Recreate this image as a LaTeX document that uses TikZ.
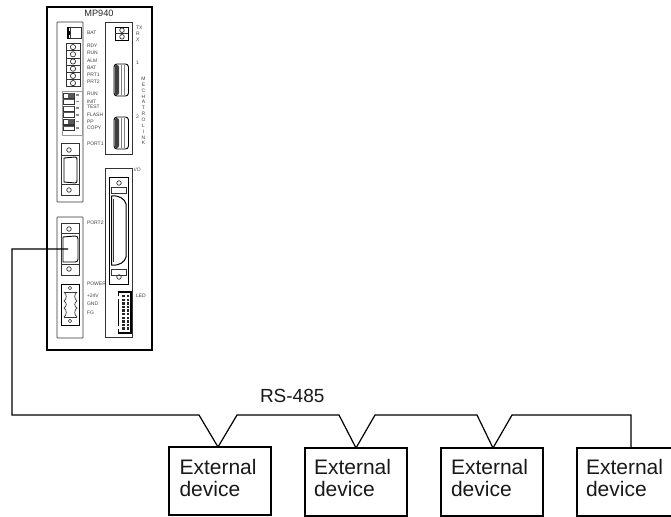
\documentclass[tikz,border=0pt]{standalone}
\usepackage{fontspec}
\setmainfont{Liberation Sans}
\tikzset{
  every node/.style={inner sep=0pt,outer sep=0pt},
  thinl/.style={draw=black!80,line width=0.7pt},
  midl/.style={draw=black,line width=1.1pt},
  tinylab/.style={font=\fontsize{5}{5}\selectfont,text=black!75,anchor=west},
  devbox/.style={draw=black,line width=1.2pt,minimum height=68pt,anchor=north west},
  devtext/.style={font=\fontsize{21}{22}\selectfont,align=left,anchor=base west,text=black!90},
  wire/.style={draw=black,line width=1.2pt},
  screw/.style={circle,draw=black!80,line width=0.7pt,minimum size=4.5pt},
}
\begin{document}
\begin{tikzpicture}[x=1pt,y=-1pt]
\useasboundingbox (0,0) rectangle (671,516);
\clip (0,0) rectangle (671,516);
\node[draw=black,line width=1.1pt,minimum width=105pt,minimum height=343pt,anchor=north west] (outer) at (47,7) {};
\node[font=\fontsize{9.2}{10}\selectfont,text=black!85] (title) at (99,13) {MP940};
% panels
\draw[thinl,rounded corners=0.5pt] (57,22) rectangle (83,202);
\draw[thinl,rounded corners=0.5pt] (57,217) rectangle (83,338);
\draw[thinl] (105,22) rectangle (132,154);
\draw[thinl] (105,168) rectangle (132,337);
% BAT connector
\draw[draw=black,line width=1.6pt] (71,27.5) -- (68,27.5) -- (68,32) -- (70,32) -- (70,34) -- (68,34) -- (68,38.5) -- (71,38.5);
\draw[thinl] (70,27.5) rectangle (81,38.5);
% LEDs
\foreach \i in {0,...,5}{
  \draw[thinl] (66,{43.5+7.2*\i}) rectangle (80,{50.7+7.2*\i});
  \draw[thinl] (73,{47.1+7.2*\i}) circle (2.6);
}
% switches
\draw[draw=black!40,line width=0.6pt] (62,91) rectangle (82,135);
\foreach \i/\xs/\ye in {0/68/98,1/63/94,2/63/94,3/63/94,4/68/98,5/63/94}{
  \draw[thinl,fill=white] (63,{93+6.5*\i}) rectangle (74,{98+6.5*\i});
  \fill[black!65] (\xs,{93+6.5*\i}) rectangle (74,{\ye+6.5*\i});
  \fill[black!45] (76,{94.5+6.5*\i}) rectangle (79,{96+6.5*\i});
}
% PORT1
\draw[thinl] (61,143) -- (79,143) -- (79,195) -- (61,195) -- cycle;
\draw[thinl] (61,155) -- (79,155) (61,184) -- (79,184);
\node[screw] (p1a) at (69,150) {};
\node[screw] (p1b) at (69,190) {};
\draw[midl,line width=0.9pt] (64,158) -- (75,157) .. controls (77,157) and (77,158) .. (77,160) -- (77,180) .. controls (77,182) and (77,183) .. (75,183) -- (64,182) -- cycle;
% PORT2
\draw[thinl] (61,223) -- (79,223) -- (79,275) -- (61,275) -- cycle;
\draw[thinl] (61,233) -- (79,233) (61,264) -- (79,264);
\node[screw] (p2a) at (69,229) {};
\node[screw] (p2b) at (69,269) {};
\draw[midl,line width=0.9pt] (63,237) -- (75,236) .. controls (77,236) and (78,237) .. (78,239) -- (78,259) .. controls (78,261) and (77,262) .. (75,262) -- (63,262) -- cycle;
\coordinate (p2c) at (68,249);
% power
\draw[midl,line width=0.9pt] (61.5,284) rectangle (79,325);
\foreach \s/\d in {64/3,77/-3}{
  \draw[thinl] (\s,292) .. controls ({\s+\d},294) and ({\s+\d},299) .. (\s,301) .. controls ({\s+\d},303) and ({\s+\d},306) .. (\s,308) .. controls ({\s+\d},310) and ({\s+\d},315) .. (\s,317);
}
\draw[thinl] (64,292) -- (77,292) (64,317) -- (77,317);
\node[screw,minimum size=3.5pt] (pwa) at (70,288) {};
\node[screw,minimum size=3.5pt] (pwb) at (70,321) {};
% TX RX
\draw[midl,line width=0.9pt] (115,27) rectangle (128,40);
\draw[thinl] (115,33.5) -- (128,33.5);
\draw[thinl] (122,30.2) circle (2.3);
\draw[thinl] (122,36.8) circle (2.3);
% mechatrolink connectors
\foreach \y in {64,117}{
  \draw[midl,rounded corners=3pt,line width=0.9pt] (114,\y) rectangle (128.5,{\y+32});
  \fill[black!75,rounded corners=2pt] (114.5,{\y+1}) rectangle (119,{\y+31});
  \foreach \k in {121,124}{\draw[black!50,line width=0.7pt] (\k,{\y+1}) -- (\k,{\y+31});}
}
% I/O connector
\draw[midl,line width=0.9pt] (109,177) rectangle (128,284);
\node[screw] (ioa) at (119,183) {};
\node[screw] (iob) at (119,277) {};
\draw[thinl] (111.5,187.5) rectangle (126,193);
\draw[thinl] (111.5,269.5) rectangle (126,275);
\draw[midl,line width=1pt] (111.5,196) .. controls (119,195) and (125,199) .. (126,204) -- (126,257) .. controls (125,262) and (119,266) .. (111.5,265) -- cycle;
\draw[thinl] (113.5,199) -- (113.5,262);
% LED connector
\draw[draw=black,line width=1.8pt] (118.5,292) rectangle (131,333);
\fill[white] (117,296) rectangle (120,299) (117,326) rectangle (120,329);
\foreach \i in {0,...,9}{
  \foreach \k in {122,126.5}{\fill[black!85] (\k,{295+3.6*\i}) rectangle ({\k+2.6},{297.3+3.6*\i});}
}
% labels
\foreach \t/\y/\nm in {BAT/33/a,RDY/46/b,RUN/53/c,ALM/61/d,BAT/68/e,PRT1/75/f,PRT2/82/g,RUN/94/h,INIT/102/i,TEST/107/j,FLASH/115/k,PP/122/l,COPY/128/m,PORT1/144/n,PORT2/223/o,POWER/284/p,+24V/296/q,GND/304/r,FG/313/s}{
  \node[tinylab] (l\nm) at (87,\y) {\t};
}
\node[tinylab] (ltx) at (136,28) {TX};
\node[tinylab] (lr) at (136,34) {R};
\node[tinylab] (lx) at (136,40) {X};
\node[tinylab] (lone) at (136,63) {1};
\node[tinylab] (ltwo) at (136,117) {2};
\node[tinylab] (lio) at (134,170) {I/O};
\node[tinylab] (lled) at (136,296) {LED};
\node[tinylab,anchor=center,align=center,font=\fontsize{5}{5.85}\selectfont] (mech) at (143.5,111) {M\\E\\C\\H\\A\\T\\R\\O\\L\\I\\N\\K};
% RS-485
\node[font=\fontsize{19}{20}\selectfont,anchor=base west,text=black!90] (rs) at (260,402) {RS-485};
% devices
\node[devbox,minimum width=102pt] (d1) at (169,447) {};
\node[devbox,minimum width=102pt] (d2) at (305,448) {};
\node[devbox,minimum width=102pt] (d3) at (441,448) {};
\node[devbox,minimum width=102pt] (d4) at (577,448) {};
\node[devtext] (t1) at (179.5,496) {External\\device};
\node[devtext] (t2) at (314,496) {External\\device};
\node[devtext] (t3) at (451,496) {External\\device};
\node[devtext] (t4) at (586,496) {External\\device};
% wires
\coordinate (w1) at (12,249);
\coordinate (w2) at (12,415);
\coordinate (w3) at (199,415);
\coordinate (a1) at (218,447);
\coordinate (w4) at (237,415);
\coordinate (w5) at (339,415);
\coordinate (a2) at (356,448);
\coordinate (w6) at (375,415);
\coordinate (w7) at (477,415);
\coordinate (a3) at (493,448);
\coordinate (w8) at (512,415);
\coordinate (w9) at (631,415);
\coordinate (a4) at (631,448);
\draw[wire] (p2c) -- (w1) -- (w2) -- (w3) -- (a1) -- (w4) -- (w5) -- (a2) -- (w6) -- (w7) -- (a3) -- (w8) -- (w9) -- (a4);
\end{tikzpicture}
\end{document}
